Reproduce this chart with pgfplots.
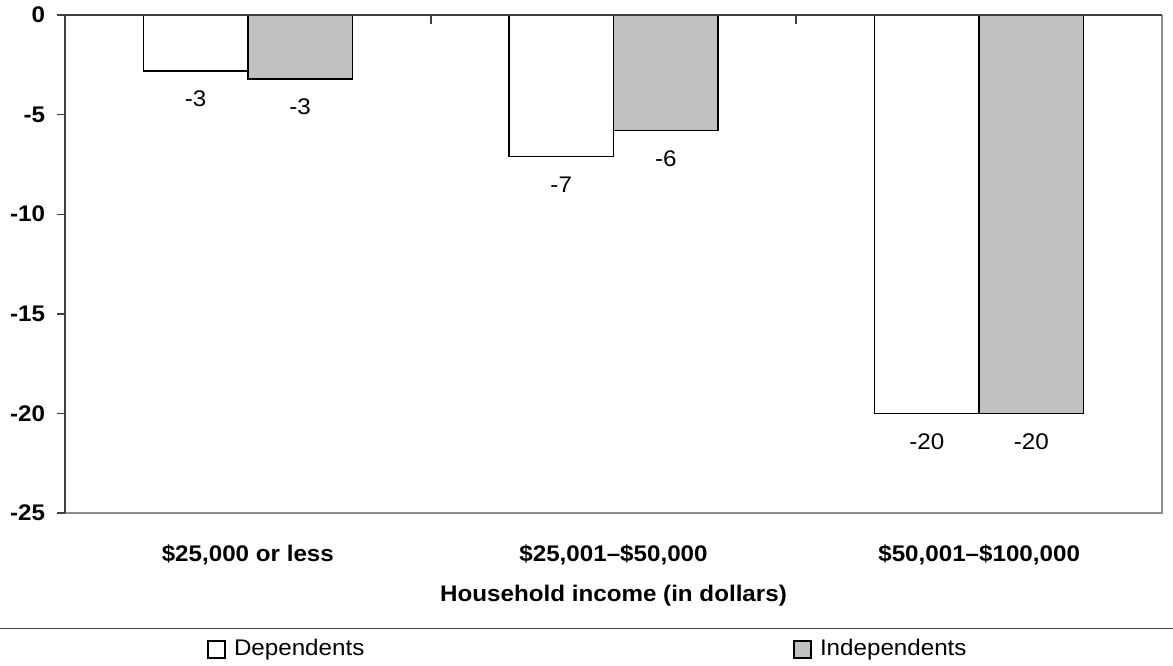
\documentclass[border=0pt]{standalone}
\usepackage{fontspec}
\setmainfont{Liberation Sans}[FakeStretch=1.07]
\usepackage{pgfplots}
\pgfplotsset{compat=1.18}
\definecolor{indep}{HTML}{C0C0C0}
\definecolor{framedark}{HTML}{404040}
\definecolor{framelight}{HTML}{8C8C8C}
\begin{document}
\fontsize{11.3}{13.5}\selectfont
\begin{tikzpicture}
\begin{axis}[
  scale only axis, width=548.5pt, height=249pt,
  xmin=-0.5, xmax=2.5, ymin=-25, ymax=0,
  clip=false,
  axis line style={draw=none},
  ybar=0pt, bar width=52.25pt,
  xtick={0,1,2},
  xticklabels={{\$25,000 or less}, {\$25,001--\$50,000}, {\$50,001--\$100,000}},
  xtick style={draw=none},
  xtick pos=lower, ytick pos=left,
  xticklabel style={font=\bfseries, anchor=base, inner sep=0pt, yshift=-20pt},
  ytick={-25,-20,-15,-10,-5,0},
  yticklabels={-25,-20,-15,-10,-5,0},
  yticklabel style={font=\bfseries, xshift=-2pt},
  tick align=outside, major tick length=4pt,
  ytick style={draw=framedark, line width=0.7pt},
  xlabel={Household income (in dollars)},
  xlabel style={font=\bfseries, anchor=base, inner sep=0pt, at={(axis description cs:0.5,0)}, yshift=-44pt},
  nodes near coords style={anchor=center, yshift=-14pt, font=\normalfont},
  legend image code/.code={\draw[#1] (0pt,-4.25pt) rectangle (8.5pt,4.25pt);},
  legend columns=2,
  legend style={draw=none, fill=none, inner sep=0pt, nodes={inner sep=0pt},
    at={(rel axis cs:0,0)}, anchor=north west, xshift=71pt, yshift=-63pt,
    /tikz/every odd column/.append style={column sep=4pt},
    /tikz/every even column/.append style={column sep=214.5pt}},
]
\addplot[draw=black, line width=0.8pt, fill=white, bar shift=-26.125pt,
  nodes near coords, point meta=explicit symbolic]
  coordinates {(0,-2.8)[-3] (1,-7.1)[-7] (2,-20)[-20]};
\addlegendentry{Dependents}
\addplot[draw=black, line width=0.8pt, fill=indep, bar shift=26.125pt,
  nodes near coords, point meta=explicit symbolic]
  coordinates {(0,-3.2)[-3] (1,-5.8)[-6] (2,-20)[-20]};
\addlegendentry{Independents}
\draw[framelight, line width=0.6pt] (rel axis cs:0,0) -- (rel axis cs:1,0) -- (rel axis cs:1,1);
\draw[framedark, line width=0.8pt] (rel axis cs:0,0) -- (rel axis cs:0,1) -- (rel axis cs:1,1);
\coordinate (t1) at (axis cs:0.5,0);
\coordinate (t2) at (axis cs:1.5,0);
\end{axis}
\draw[framedark, line width=0.9pt] (t1) -- ++(0,-4.5pt);
\draw[framedark, line width=0.9pt] (t2) -- ++(0,-4.5pt);
\draw[framedark, line width=0.6pt] (current axis.south west) ++(-32.5pt,-57.75pt) -- ++(586.5pt,0);
\pgfresetboundingbox
\path[use as bounding box] (current axis.south west) ++(-32.5pt,-76pt) rectangle ++(586.5pt,332.5pt);
\end{tikzpicture}
\end{document}
